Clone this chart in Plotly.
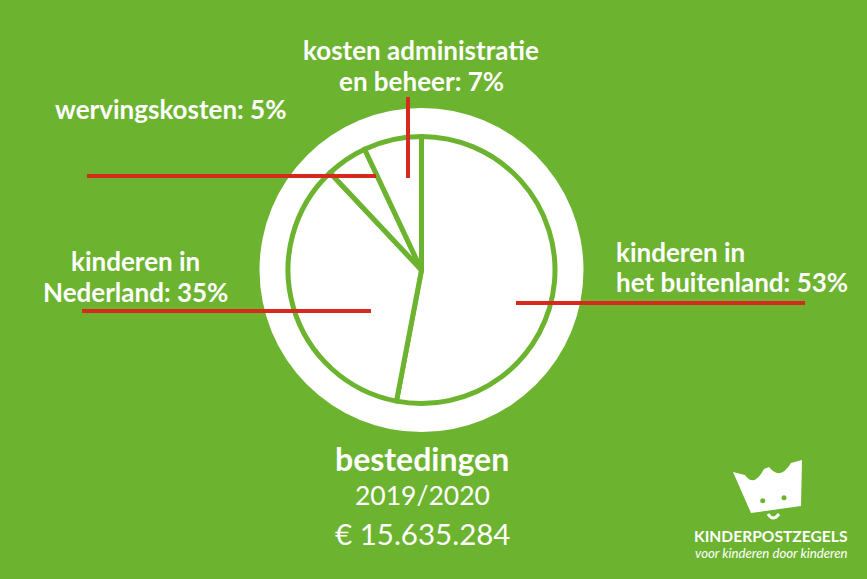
import plotly.graph_objects as go

# ---- data ----
categories = ["kinderen in het buitenland", "kinderen in Nederland", "wervingskosten", "kosten administratie en beheer"]
values = [53, 35, 5, 7]
label_line1 = ["kinderen in", "kinderen in", "wervingskosten: {}%", "kosten administratie"]
label_line2 = ["het buitenland: {}%", "Nederland: {}%", None, "en beheer: {}%"]
title_main = "bestedingen"
title_year = "2019/2020"
title_amount = "€ 15.635.284"
logo_name = "KINDERPOSTZEGELS"
logo_tagline = "voor kinderen door kinderen"

W, H = 867, 579
GREEN = "#6cb32f"
RED = "#d8291f"
WHITE = "#ffffff"
FONT = "Lato"

cx, cy = 421.5, 270
r_back, r_pie = 162, 133.5


def dom(cx, cy, r):
    return dict(x=[(cx - r) / W, (cx + r) / W], y=[1 - (cy + r) / H, 1 - (cy - r) / H])


fig = go.Figure()
fig.add_trace(go.Pie(values=[1], domain=dom(cx, cy, r_back), marker=dict(colors=[WHITE], line=dict(width=0)),
                     textinfo="none", hoverinfo="skip", showlegend=False, sort=False))
fig.add_trace(go.Pie(labels=categories, values=values, domain=dom(cx, cy, r_pie), sort=False,
                     direction="clockwise", rotation=0,
                     marker=dict(colors=[WHITE] * 4, line=dict(color=GREEN, width=5)),
                     textinfo="none", showlegend=False))

shapes = []
# leader lines
for (x0, y0, x1, y1) in [(516, 303, 805, 303), (82, 311, 371, 311), (87, 176, 376, 176), (408, 97, 408, 178)]:
    shapes.append(dict(type="line", xref="x", yref="y", x0=x0, y0=y0, x1=x1, y1=y1,
                       line=dict(color=RED, width=4)))
# logo crown
shapes.append(dict(type="path", xref="x", yref="y",
                   path="M 733,472 L 745,475 Q 754,488 764,469 L 769,467 Q 780,481 791,463 L 802,460 L 801,506 L 751,513 Z",
                   fillcolor=WHITE, line=dict(width=0)))
for ex, ey in [(762.7, 500.7), (784, 497.7)]:
    shapes.append(dict(type="circle", xref="x", yref="y", x0=ex - 2.5, x1=ex + 2.5, y0=ey - 2.5, y1=ey + 2.5,
                       fillcolor=GREEN, line=dict(width=0)))
shapes.append(dict(type="path", xref="x", yref="y", path="M 768,514 Q 773,522 779,514",
                   line=dict(color=WHITE, width=3)))

ann = []
def A(text, x, y, size, xanchor="center", bold=True, italic=False):
    ann.append(dict(text=text, x=x, y=y, xref="x", yref="y", xanchor=xanchor, yanchor="middle",
                    showarrow=False,
                    font=dict(family=FONT, size=size, color=WHITE, weight="bold" if bold else "normal",
                              style="italic" if italic else "normal")))

LS = 26
# admin
A(label_line1[3], 421, 49.5, LS)
A(label_line2[3].format(values[3]), 421, 80.5, LS)
# werving
A(label_line1[2].format(values[2]), 53, 108.5, LS, xanchor="left")
# nederland
A(label_line1[1], 135, 260.5, LS)
A(label_line2[1].format(values[1]), 135, 291.5, LS)
# buitenland
A(label_line1[0], 614, 252, LS, xanchor="left")
A(label_line2[0].format(values[0]), 614, 282, LS, xanchor="left")

A(title_main, 422, 458.5, 32)
A(title_year, 422, 495, 26.5, bold=False)
A(title_amount, 422, 533, 29.5, bold=False)
A(logo_name, 770.5, 535.5, 15.6)
A(logo_tagline, 771.5, 553, 13.2, bold=False, italic=True)

fig.update_layout(width=W, height=H, margin=dict(l=0, r=0, t=0, b=0),
                  paper_bgcolor=GREEN, plot_bgcolor=GREEN,
                  xaxis=dict(range=[0, W], visible=False, fixedrange=True),
                  yaxis=dict(range=[H, 0], visible=False, fixedrange=True),
                  shapes=shapes, annotations=ann)
fig.write_html("out.html")
